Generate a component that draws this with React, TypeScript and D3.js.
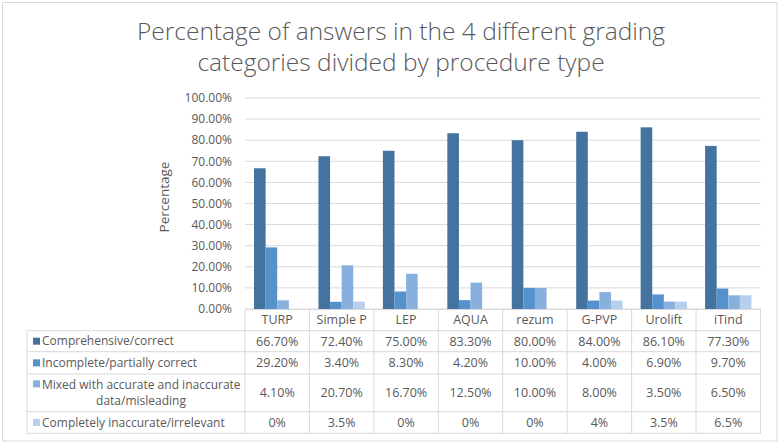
import React from 'react';
import * as d3 from 'd3';

const categories = ['TURP', 'Simple P', 'LEP', 'AQUA', 'rezum', 'G-PVP', 'Urolift', 'iTind'];
const seriesNames = [
  'Comprehensive/correct',
  'Incomplete/partially correct',
  'Mixed with accurate and inaccurate data/misleading',
  'Completely inaccurate/irrelevant',
];
const comprehensive = [66.7, 72.4, 75.0, 83.3, 80.0, 84.0, 86.1, 77.3];
const incomplete = [29.2, 3.4, 8.3, 4.2, 10.0, 4.0, 6.9, 9.7];
const mixed = [4.1, 20.7, 16.7, 12.5, 10.0, 8.0, 3.5, 6.5];
const inaccurate = [0, 3.5, 0, 0, 0, 4, 3.5, 6.5];
const inaccurateLabels = ['0%', '3.5%', '0%', '0%', '0%', '4%', '3.5%', '6.5%'];
const yTicks = [0, 10, 20, 30, 40, 50, 60, 70, 80, 90, 100];

const COLORS = ['#44739F', '#5592CC', '#88B0DF', '#B7CFED'];
const TEXT = '#595959';
const GRID = '#D9D9D9';
const FONT = 'Open Sans, sans-serif';

const series = [comprehensive, incomplete, mixed, inaccurate];
const labels = [
  comprehensive.map((v) => v.toFixed(2) + '%'),
  incomplete.map((v) => v.toFixed(2) + '%'),
  mixed.map((v) => v.toFixed(2) + '%'),
  inaccurateLabels,
];

const W = 780;
const H = 444;
const PLOT = { left: 245, right: 760.5, top: 98, bottom: 309 };
const TABLE_LEFT = 27;
// row boundaries of the data table: header, then one row per series
const rowLines = [309.5, 330.7, 351.7, 374, 411.7, 433.3];

export default function App() {
  const x = d3.scaleBand<string>().domain(categories).range([PLOT.left, PLOT.right]);
  const bw = x.bandwidth();
  const xs = d3
    .scaleBand<number>()
    .domain(d3.range(series.length))
    .range([bw * 0.14, bw * 0.86]);
  const y = d3.scaleLinear().domain([0, 100]).range([PLOT.bottom, PLOT.top]);

  return (
    <svg
      width={W}
      height={H}
      style={{ position: 'absolute', left: 0, top: 0, fontFamily: FONT }}
    >
      <rect x={0} y={0} width={W} height={H} fill="#fff" />
      <rect x={2.5} y={2.5} width={774.5} height={438.5} fill="none" stroke={GRID} />

      <text x={401} y={40} textAnchor="middle" fill={TEXT} fontSize={24.5} fontWeight={300}>
        Percentage of answers in the 4 different grading
      </text>
      <text x={401} y={71} textAnchor="middle" fill={TEXT} fontSize={24.5} fontWeight={300}>
        categories divided by procedure type
      </text>

      {/* gridlines + y labels */}
      {yTicks.map((t) => (
        <g key={t}>
          <line x1={PLOT.left} x2={PLOT.right} y1={y(t)} y2={y(t)} stroke={GRID} />
          <text x={232} y={y(t)} dy="0.35em" textAnchor="end" fill={TEXT} fontSize={12}>
            {t.toFixed(2)}%
          </text>
        </g>
      ))}
      <text
        transform={`translate(169,197) rotate(-90)`}
        textAnchor="middle"
        fill={TEXT}
        fontSize={13.5}
      >
        Percentage
      </text>

      {/* bars */}
      {series.map((vals, si) =>
        vals.map((v, ci) => (
          <rect
            key={`${si}-${ci}`}
            x={(x(categories[ci]) ?? 0) + (xs(si) ?? 0)}
            y={y(v)}
            width={xs.bandwidth()}
            height={y(0) - y(v)}
            fill={COLORS[si]}
          />
        ))
      )}

      {/* data table */}
      <g stroke={GRID} fill="none">
        <line x1={PLOT.left} x2={PLOT.right} y1={rowLines[0]} y2={rowLines[0]} />
        {rowLines.slice(1).map((ry, i) => (
          <line key={i} x1={TABLE_LEFT} x2={PLOT.right} y1={ry} y2={ry} />
        ))}
        <line x1={TABLE_LEFT} x2={TABLE_LEFT} y1={rowLines[1]} y2={rowLines[5]} />
        {categories.map((c) => (
          <line key={c} x1={x(c)} x2={x(c)} y1={rowLines[0]} y2={rowLines[5]} />
        ))}
        <line x1={PLOT.right} x2={PLOT.right} y1={rowLines[0]} y2={rowLines[5]} />
      </g>

      {categories.map((c) => (
        <text
          key={c}
          x={(x(c) ?? 0) + bw / 2}
          y={(rowLines[0] + rowLines[1]) / 2}
          dy="0.35em"
          textAnchor="middle"
          fill={TEXT}
          fontSize={12.5}
        >
          {c}
        </text>
      ))}

      {series.map((_, si) => {
        const cy = (rowLines[si + 1] + rowLines[si + 2]) / 2;
        return (
          <g key={si}>
            {labels[si].map((lab, ci) => (
              <text
                key={ci}
                x={(x(categories[ci]) ?? 0) + bw / 2}
                y={cy}
                dy="0.35em"
                textAnchor="middle"
                fill={TEXT}
                fontSize={12.5}
              >
                {lab}
              </text>
            ))}
          </g>
        );
      })}

      {/* legend keys in the table */}
      {seriesNames.map((name, si) => {
        const cy = (rowLines[si + 1] + rowLines[si + 2]) / 2;
        if (si === 2) {
          return (
            <g key={si}>
              <rect x={33} y={cy - 12.5} width={7} height={7} fill={COLORS[si]} />
              <text x={42} y={cy - 8.5} dy="0.35em" fill={TEXT} fontSize={12}>
                Mixed with accurate and inaccurate
              </text>
              <text x={141} y={cy + 8} dy="0.35em" textAnchor="middle" fill={TEXT} fontSize={12}>
                data/misleading
              </text>
            </g>
          );
        }
        return (
          <g key={si}>
            <rect x={33} y={cy - 3.5} width={7} height={7} fill={COLORS[si]} />
            <text x={42} y={cy} dy="0.35em" fill={TEXT} fontSize={12}>
              {name}
            </text>
          </g>
        );
      })}
    </svg>
  );
}
